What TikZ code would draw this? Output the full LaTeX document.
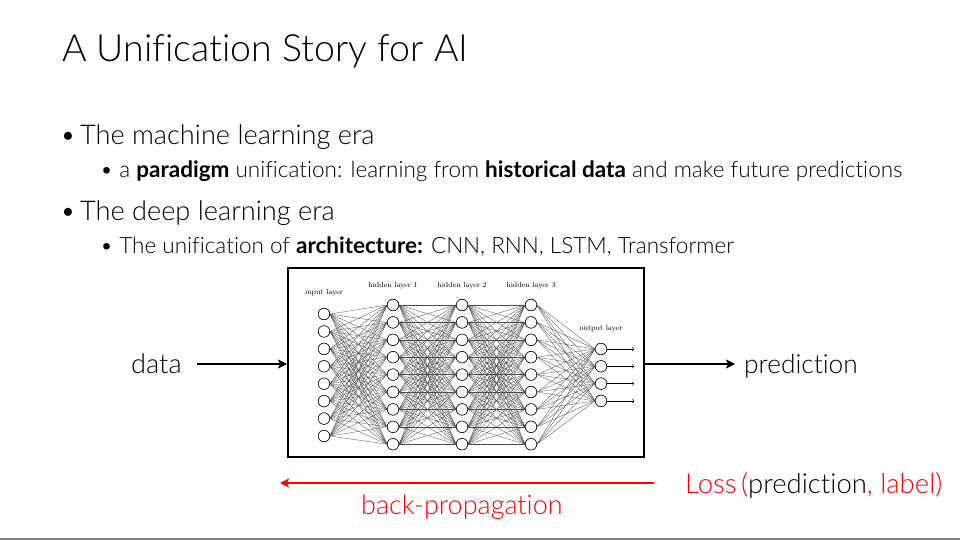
\documentclass[tikz,border=0pt]{standalone}
\usepackage{fontspec}
\newfontfamily\uifont[Ligatures={NoCommon,NoRare}]{Lato}
\newfontfamily\uilight[Ligatures={NoCommon,NoRare}]{Lato Light}
\usetikzlibrary{arrows.meta}
\begin{document}
\begin{tikzpicture}[x=1pt,y=-1pt,
  txt/.style={anchor=base west, inner sep=0pt},
  neuron/.style={circle, draw=black, fill=white, line width=0.5pt, minimum size=11.5pt, inner sep=0pt},
  synapse/.style={draw=black!70, line width=0.3pt},
  layerlbl/.style={font=\fontsize{7.5}{8}\selectfont, inner sep=0pt},
  flow/.style={line width=2pt, -{Stealth[length=9pt,width=9pt,inset=2pt]}},
  big/.style={font=\uilight\fontsize{27.2}{30}\selectfont},
  small/.style={font=\uilight\fontsize{22.5}{25}\selectfont}
]
\useasboundingbox (0,0) rectangle (960,540);
\fill[white] (0,0) rectangle (960,540);

% title and bullet text
\node[txt, font=\uilight\fontsize{37.5}{40}\selectfont] (title) at (62,62) {A Unification Story for AI};

\node[txt, big] (b1) at (60,145) {\textbullet\hspace{0.15em}The machine learning era};
\node[txt, small] (s1) at (100,178)
  {\textbullet\ a {\uifont\bfseries paradigm} unification: learning from {\uifont\bfseries historical data} and make future predictions};
\node[txt, big] (b2) at (60,220) {\textbullet\hspace{0.15em}The deep learning era};
\node[txt, small] (s2) at (100,253)
  {\textbullet\ The unification of {\uifont\bfseries architecture:} CNN, RNN, LSTM, Transformer};

% network panel
\node[draw=black, line width=2pt, fill=white, minimum width=356pt, minimum height=189pt, inner sep=0pt] (panel) at (466,362.5) {};

% layers
\foreach \i in {1,...,8} \node[neuron] (a\i) at (324,{314+(\i-1)*17.43}) {};
\foreach \i in {1,...,9} \node[neuron] (b\i) at (393,{305+(\i-1)*17.4}) {};
\foreach \i in {1,...,9} \node[neuron] (c\i) at (462,{305+(\i-1)*17.4}) {};
\foreach \i in {1,...,9} \node[neuron] (d\i) at (531,{305+(\i-1)*17.4}) {};
\foreach \i in {1,...,4} \node[neuron] (e\i) at (601,{349+(\i-1)*17.3}) {};

% connections between consecutive layers
\foreach \i in {1,...,8} \foreach \j in {1,...,9} \draw[synapse] (a\i.east) -- (b\j.west);
\foreach \i in {1,...,9} \foreach \j in {1,...,9} \draw[synapse] (b\i.east) -- (c\j.west);
\foreach \i in {1,...,9} \foreach \j in {1,...,9} \draw[synapse] (c\i.east) -- (d\j.west);
\foreach \i in {1,...,9} \foreach \j in {1,...,4} \draw[synapse] (d\i.east) -- (e\j.west);
% neurons again, on top of the connections
\foreach \i in {1,...,8} \node[neuron] at (a\i) {};
\foreach \i in {1,...,9} \node[neuron] at (b\i) {};
\foreach \i in {1,...,9} \node[neuron] at (c\i) {};
\foreach \i in {1,...,9} \node[neuron] at (d\i) {};
\foreach \i in {1,...,4} \node[neuron] at (e\i) {};

\foreach \i in {1,...,4} {
  \coordinate (o\i) at ([xshift=27pt]e\i.east);
  \draw[line width=0.4pt, -{To[length=2pt]}] (e\i.east) -- (o\i);
}

\node[layerlbl] (la) at (324,293) {input layer};
\node[layerlbl] (lb) at (393,286) {hidden layer 1};
\node[layerlbl] (lc) at (462,286) {hidden layer 2};
\node[layerlbl] (ld) at (531,286) {hidden layer 3};
\node[layerlbl] (le) at (601,329) {output layer};

% forward pass
\node[txt, big] (data) at (131,373) {data};
\node[txt, font=\uilight\fontsize{26.3}{30}\selectfont] (pred) at (744,373) {prediction};
\coordinate (din) at (197,364);
\draw[flow] (din) -- (panel.west |- din);
\draw[flow] (panel.east |- din) -- ([xshift=-9pt]pred.west |- din);

% loss and backward pass
\node[txt, font=\uilight\fontsize{27.5}{30}\selectfont] (loss) at (685,493)
  {\textcolor{red}{Loss}\,\textcolor{red}{(}prediction\textcolor{red}{, label)}};
\coordinate (bpend) at (280,483);
\draw[flow, red] ([xshift=-31pt]loss.west |- bpend) -- (bpend);
\node[txt, font=\uilight\fontsize{27}{30}\selectfont, red] (bp) at (361,514) {back-propagation};

% footer rule
\fill[black!50] (0,537.5) rectangle (960,540);
\end{tikzpicture}
\end{document}
